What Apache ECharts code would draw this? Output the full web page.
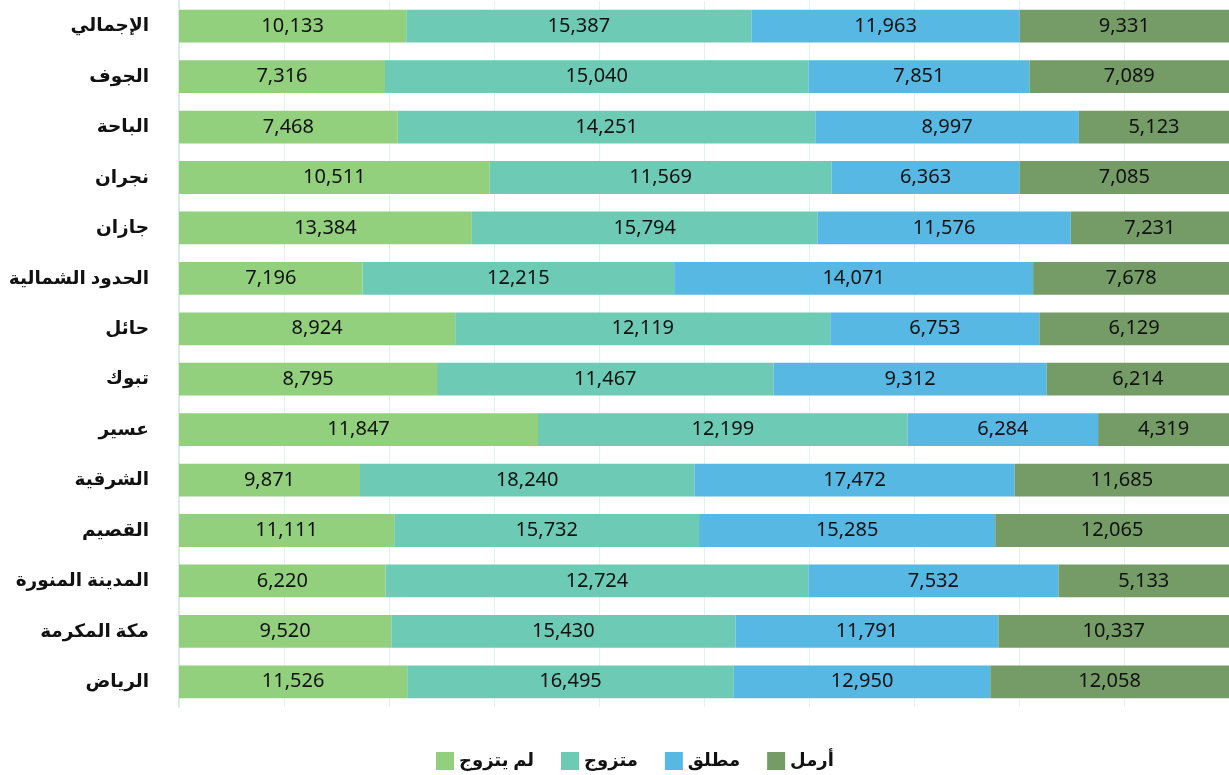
<!DOCTYPE html>
<html>
<head>
<meta charset="utf-8">
<script src="https://cdn.jsdelivr.net/npm/echarts@6/dist/echarts.min.js"></script>
<style>
html, body { margin: 0; padding: 0; background: #fff; }
#chart { width: 1229px; height: 775px; }
</style>
</head>
<body>
<div id="chart"></div>
<script>
// المناطق من الأعلى إلى الأسفل
var regions = ['الإجمالي', 'الجوف', 'الباحة', 'نجران', 'جازان', 'الحدود الشمالية', 'حائل', 'تبوك', 'عسير', 'الشرقية', 'القصيم', 'المدينة المنورة', 'مكة المكرمة', 'الرياض'];
var seriesNames = ['لم يتزوج', 'متزوج', 'مطلق', 'أرمل'];
var neverMarried = [10133, 7316, 7468, 10511, 13384, 7196, 8924, 8795, 11847, 9871, 11111, 6220, 9520, 11526];
var married = [15387, 15040, 14251, 11569, 15794, 12215, 12119, 11467, 12199, 18240, 15732, 12724, 15430, 16495];
var divorced = [11963, 7851, 8997, 6363, 11576, 14071, 6753, 9312, 6284, 17472, 15285, 7532, 11791, 12950];
var widowed = [9331, 7089, 5123, 7085, 7231, 7678, 6129, 6214, 4319, 11685, 12065, 5133, 10337, 12058];
var colors = ['#92D07E', '#6DCAB4', '#56B8E3', '#759C67'];

var raw = [neverMarried, married, divorced, widowed];
var totals = regions.map(function(r, i){
    return raw[0][i] + raw[1][i] + raw[2][i] + raw[3][i];
});

var chart = echarts.init(document.getElementById('chart'));
var font = '"Noto Sans", "DejaVu Sans", sans-serif';

var series = raw.map(function(vals, k){
    return {
        name: seriesNames[k],
        type: 'bar',
        stack: 'total',
        barCategoryGap: '35%',
        itemStyle: { color: colors[k] },
        label: {
            show: true,
            position: 'inside',
            color: '#111',
            fontSize: 20,
            fontFamily: font,
            formatter: function(p){
                return vals[p.dataIndex].toLocaleString('en-US');
            }
        },
        data: vals.map(function(v, i){ return v / totals[i] * 100; })
    };
});

var option = {
    animation: false,
    textStyle: { fontFamily: font },
    grid: { left: 179, right: 0, top: 1, bottom: 68 },
    legend: {
        bottom: 0,
        left: 431,
        itemWidth: 18,
        itemHeight: 18,
        itemGap: 27,
        icon: 'rect',
        textStyle: { fontSize: 18, fontWeight: 'bold', color: '#111', fontFamily: font },
        data: seriesNames
    },
    xAxis: {
        type: 'value',
        min: 0,
        max: 100,
        interval: 10,
        axisLabel: { show: false },
        axisLine: { show: false },
        axisTick: { show: false },
        splitLine: { show: true, lineStyle: { color: '#e3f2ec', width: 1 } }
    },
    yAxis: {
        type: 'category',
        inverse: true,
        data: regions,
        axisTick: { show: false },
        axisLine: { show: true, lineStyle: { color: '#d6eee6', width: 2 } },
        axisLabel: { margin: 30, fontSize: 18.5, fontWeight: 'bold', color: '#111', fontFamily: font }
    },
    series: series
};
chart.setOption(option);
</script>
</body>
</html>
